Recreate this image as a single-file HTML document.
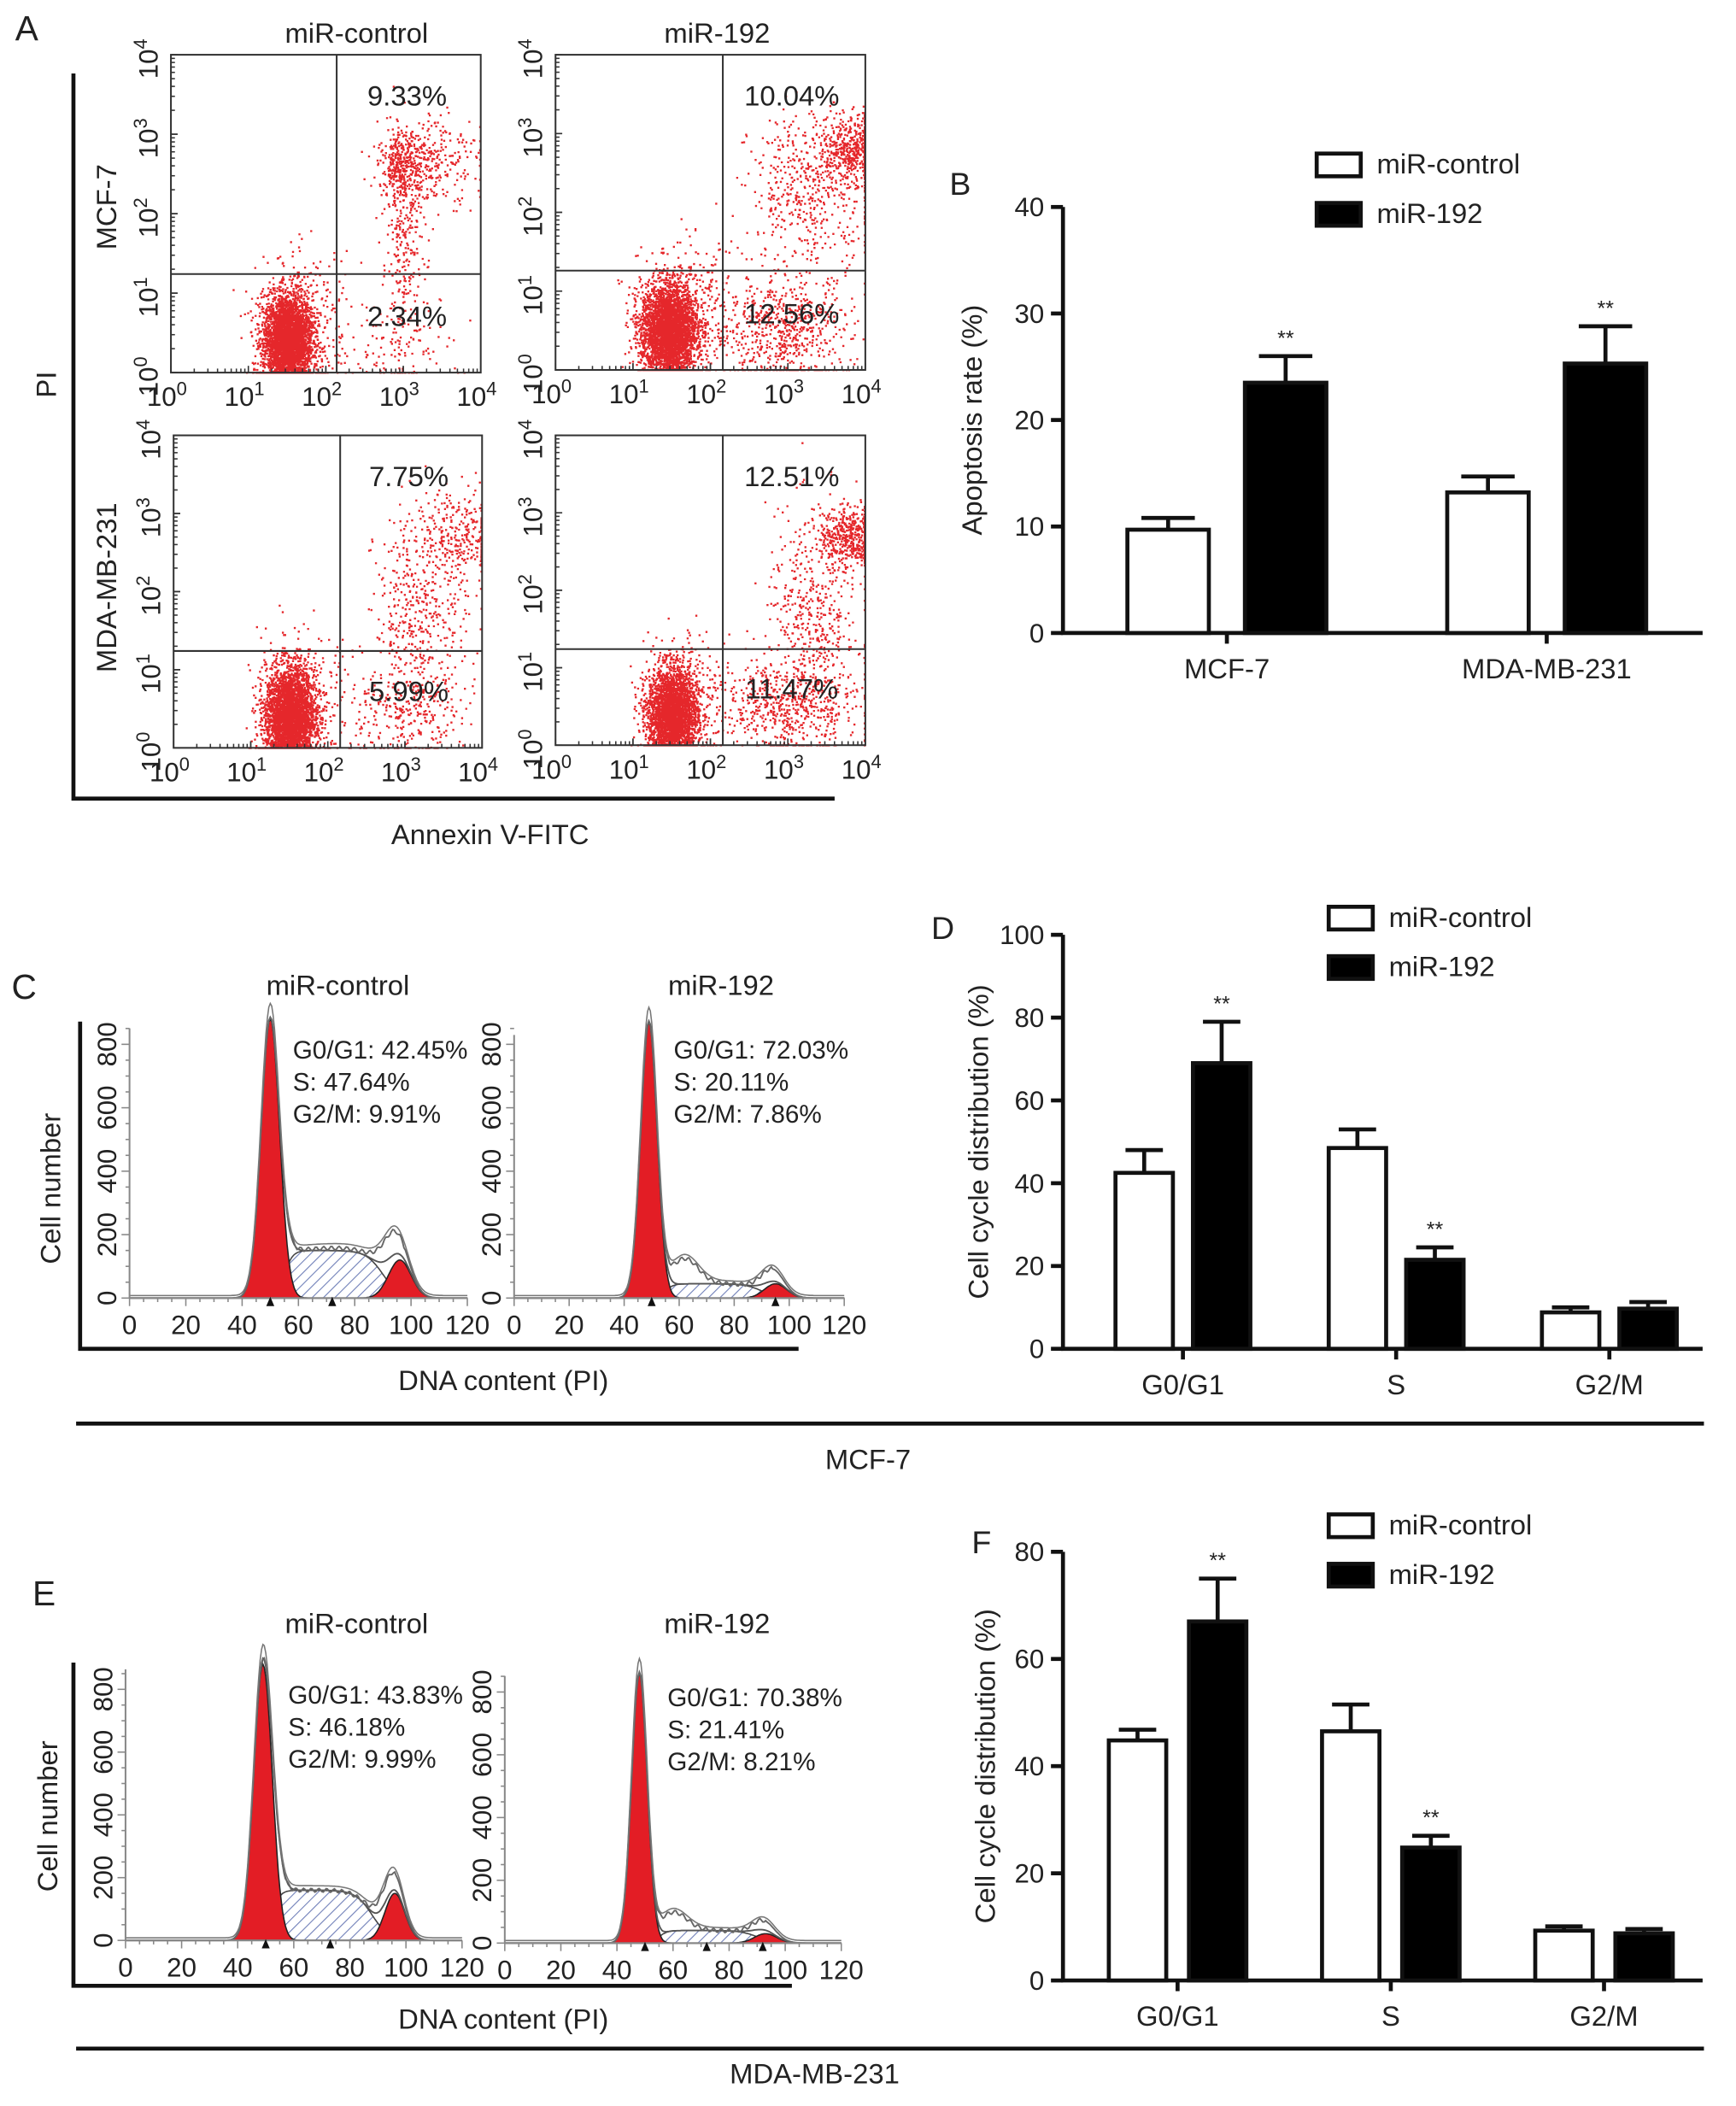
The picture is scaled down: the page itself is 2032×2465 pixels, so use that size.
<!DOCTYPE html>
<html><head><meta charset="utf-8"><style>
html,body{margin:0;padding:0;background:#fff;}
svg{display:block;font-family:"Liberation Sans",Arial,sans-serif;}
</style></head><body>
<svg id="fig" width="2032" height="2465" viewBox="0 0 1300 1577" preserveAspectRatio="none" xmlns="http://www.w3.org/2000/svg">
<defs>
<pattern id="hatch" patternUnits="userSpaceOnUse" width="6" height="6" patternTransform="rotate(45)">
<rect width="6" height="6" fill="#fff"/><line x1="0" y1="0" x2="0" y2="6" stroke="#6f7fb8" stroke-width="1.4"/>
</pattern>
</defs>
<g id="root"></g>
</svg>
<script>
// ---------- Bar chart data ----------
const B_categories = ["MCF-7", "MDA-MB-231"];
const B_control = [9.7, 13.2];
const B_control_err = [1.1, 1.5];
const B_mir = [23.5, 25.3];
const B_mir_err = [2.5, 3.5];
const B_ticks = [0, 10, 20, 30, 40];

const D_categories = ["G0/G1", "S", "G2/M"];
const D_control = [42.5, 48.5, 8.8];
const D_control_err = [5.5, 4.5, 1.2];
const D_mir = [69, 21.5, 9.7];
const D_mir_err = [10, 3, 1.6];
const D_ticks = [0, 20, 40, 60, 80, 100];

const F_categories = ["G0/G1", "S", "G2/M"];
const F_control = [44.8, 46.5, 9.3];
const F_control_err = [2, 5, 0.8];
const F_mir = [67, 24.8, 8.8];
const F_mir_err = [8, 2.2, 0.8];
const F_ticks = [0, 20, 40, 60, 80];

// ---------- Flow cytometry cluster data (log10 units: cx, cy, sx, sy, n) ----------
const flowTL = [[1.5,0.4,0.16,0.3,3500],[3.0,2.6,0.15,0.2,300],[3.3,2.7,0.35,0.3,300],[3.0,1.5,0.15,0.6,250],[2.8,0.4,0.5,0.3,120],[1.7,0.7,0.3,0.4,250]];
const flowTR = [[1.45,0.5,0.18,0.3,3500],[3.8,2.8,0.2,0.2,450],[3.3,2.3,0.4,0.5,500],[2.9,0.5,0.45,0.35,650],[1.7,0.8,0.3,0.4,300]];
const flowBL = [[1.5,0.4,0.16,0.32,3500],[3.7,2.7,0.25,0.3,250],[3.2,1.7,0.3,0.7,500],[2.9,0.4,0.4,0.3,250],[1.7,0.7,0.3,0.4,250]];
const flowBR = [[1.5,0.4,0.16,0.3,3000],[3.8,2.7,0.2,0.2,500],[3.3,1.6,0.3,0.7,500],[3.0,0.5,0.45,0.3,550],[1.7,0.7,0.3,0.4,250]];
const flowPercentUR = ["9.33%", "10.04%", "7.75%", "12.51%"];
const flowPercentLR = ["2.34%", "12.56%", "5.99%", "11.47%"];

// ---------- Histogram data ----------
const histC1 = {g1:[50,3.3,880], s:[55,90,150], g2:[96,4,120], extra:[[93,4,75],[75,10,8]], stats:["G0/G1: 42.45%","S: 47.64%","G2/M: 9.91%"], marks:[50,72]};
const histC2 = {g1:[49,3,870], s:[55,90,45], g2:[95,4,45], extra:[[62,5,80],[93,4,40]], stats:["G0/G1: 72.03%","S: 20.11%","G2/M: 7.86%"], marks:[50,95]};
const histE1 = {g1:[49,3.3,880], s:[52,88,160], g2:[96,3.5,150], extra:[[94,4,60]], stats:["G0/G1: 43.83%","S: 46.18%","G2/M: 9.99%"], marks:[50,73]};
const histE2 = {g1:[48,2.8,860], s:[55,90,40], g2:[93,4,30], extra:[[60,5,60],[92,4,30]], stats:["G0/G1: 70.38%","S: 21.41%","G2/M: 8.21%"], marks:[50,72,92]};

const NS = "http://www.w3.org/2000/svg";
const root = document.getElementById('root');
function mk(tag, attrs, parent) {
  const e = document.createElementNS(NS, tag);
  for (const k in attrs) e.setAttribute(k, attrs[k]);
  (parent || root).appendChild(e);
  return e;
}
function txt(x, y, s, size, opts, parent) {
  const a = Object.assign({x:x, y:y, 'font-size':size, 'text-anchor':'middle', fill:'#222'}, opts || {});
  const t = mk('text', a, parent);
  t.textContent = s;
  return t;
}

const labels = [["A",20,30,26],["B",719,146,24],["C",18,748,26],["D",706,703,24],["E",33,1202,26],["F",735,1163,24]];
labels.forEach(l => {
  const t = txt(l[1], l[2], l[0], l[3]);
  
  
});

// ---------- Panel A ----------
let seed = 12345;
function rnd() { seed = (seed * 1103515245 + 12345) % 2147483648; return seed / 2147483648; }
function gauss() { let u = rnd() || 1e-6, v = rnd(); return Math.sqrt(-2 * Math.log(u)) * Math.cos(2 * Math.PI * v); }

function flowPanel(px, py, pw, ph, clusters, ur, lr, qx, qy, name) {
  const g = mk('g', {});
  
  
  const X = v => px + v / 4 * pw;
  const Y = v => py + ph - v / 4 * ph;
  let d = '';
  clusters.forEach(c => {
    for (let i = 0; i < c[4]; i++) {
      let lx = c[0] + gauss() * c[2], ly = c[1] + gauss() * c[3];
      lx = Math.max(0.02, Math.min(3.98, lx)); ly = Math.max(0.01, Math.min(3.97, ly));
      d += 'M' + X(lx).toFixed(1) + ' ' + Y(ly).toFixed(1) + 'h1.5v1.5h-1.5z';
    }
  });
  const dots = mk('path', {d: d, fill: '#e5272b'}, g);
  
  
  mk('rect', {x:px, y:py, width:pw, height:ph, fill:'none', stroke:'#333', 'stroke-width':1.3}, g);
  mk('line', {x1:X(qx), y1:py, x2:X(qx), y2:py+ph, stroke:'#333', 'stroke-width':1.3}, g);
  mk('line', {x1:px, y1:Y(qy), x2:px+pw, y2:Y(qy), stroke:'#333', 'stroke-width':1.3}, g);
  for (let dec = 0; dec < 4; dec++) for (let m = 1; m <= 10; m++) {
    const v = dec + Math.log10(m);
    const L = m === 1 || m === 10 ? 5 : 3;
    mk('line', {x1:X(v), y1:py+ph, x2:X(v), y2:py+ph-L, stroke:'#333', 'stroke-width':1}, g);
    mk('line', {x1:px, y1:Y(v), x2:px+L, y2:Y(v), stroke:'#333', 'stroke-width':1}, g);
  }
  for (let k = 0; k <= 4; k++) {
    const t = txt(X(k) - 3, py + ph + 25, '10', 20, {}, g);
    const s = mk('tspan', {dy:-8, 'font-size':14}, t); s.textContent = k;
    
    
    const ty = txt(0, 0, '10', 20, {transform:'translate(' + (px - 10) + ',' + (Y(k) + 3) + ') rotate(-90)'}, g);
    const s2 = mk('tspan', {dy:-8, 'font-size':14}, ty); s2.textContent = k;
    
    
  }
  const a = txt(X(3.05), py + 38, ur, 21, {}, g);
  
  
  const b = txt(X(3.05), py + ph - 35, lr, 21, {}, g);
  
  
}
flowPanel(128, 41, 232, 238, flowTL, flowPercentUR[0], flowPercentLR[0], 2.14, 1.24, 'flow-mcf7-control');
flowPanel(416, 41, 232, 236, flowTR, flowPercentUR[1], flowPercentLR[1], 2.16, 1.26, 'flow-mcf7-mir192');
flowPanel(130, 326, 231, 234, flowBL, flowPercentUR[2], flowPercentLR[2], 2.16, 1.24, 'flow-mda-control');
flowPanel(416, 326, 232, 232, flowBR, flowPercentUR[3], flowPercentLR[3], 2.16, 1.24, 'flow-mda-mir192');
[["miR-control",267,32,'col-title-control'],["miR-192",537,32,'col-title-mir192']].forEach(c => {
  const t = txt(c[1], c[2], c[0], 21);  
});
let t0 = txt(0,0,'MCF-7',21,{transform:'translate(87,155) rotate(-90)'});  
t0 = txt(0,0,'MDA-MB-231',21,{transform:'translate(87,440) rotate(-90)'});  
t0 = txt(0,0,'PI',21,{transform:'translate(42,288) rotate(-90)'});  
t0 = txt(367,632,'Annexin V-FITC',21);  
mk('path', {d:'M55 55V598H625', fill:'none', stroke:'#111', 'stroke-width':3});

// ---------- Bar charts ----------
function barChart(o) {
  const g = mk('g', {});
  
  
  const Y = v => o.yb - v / o.vmax * (o.yb - o.yt);
  mk('line', {x1:o.x0, y1:o.yt, x2:o.x0, y2:o.yb + 1, stroke:'#111', 'stroke-width':3}, g);
  mk('line', {x1:o.x0 - 1.5, y1:o.yb, x2:o.x1, y2:o.yb, stroke:'#111', 'stroke-width':3}, g);
  o.ticks.forEach(v => {
    mk('line', {x1:o.x0 - 9, y1:Y(v), x2:o.x0, y2:Y(v), stroke:'#111', 'stroke-width':3}, g);
    const t = txt(o.x0 - 14, Y(v) + 7, String(v), 20, {'text-anchor':'end'}, g);
    
    
  });
  const step = (o.x1 - o.x0) / o.cats.length;
  o.cats.forEach((c, i) => {
    const cx = o.x0 + (i + 0.5) * step + o.shift;
    mk('line', {x1:cx, y1:o.yb, x2:cx, y2:o.yb + 8, stroke:'#111', 'stroke-width':3}, g);
    const t = txt(cx, o.yb + 34, c, 21, {}, g);
    
    
    [[o.ctrl, o.ctrlErr, '#fff', -1, 'bar-control'], [o.mir, o.mirErr, '#000', 1, 'bar-mir192']].forEach(s => {
      const bx = cx + s[3] * o.off;
      const v = s[0][i], e = s[1][i];
      mk('line', {x1:bx, y1:Y(v), x2:bx, y2:Y(v + e), stroke:'#111', 'stroke-width':3}, g);
      mk('line', {x1:bx - o.cap / 2, y1:Y(v + e), x2:bx + o.cap / 2, y2:Y(v + e), stroke:'#111', 'stroke-width':3}, g);
      const r = mk('rect', {x:bx - o.bw / 2, y:Y(v), width:o.bw, height:o.yb - Y(v), fill:s[2], stroke:'#111', 'stroke-width':3}, g);
      
      
    });
    if (o.star[i] !== null) {
      const st = txt(cx + o.off, Y(o.mir[i] + o.mirErr[i]) - 8, '**', 16, {}, g);
      
      
    }
  });
  const yt = txt(0, 0, o.title, 21, {transform:'translate(' + o.tx + ',' + ((o.yt + o.yb) / 2) + ') rotate(-90)'}, g);
  
  
  const lg = mk('g', {}, g);
  
  
  mk('rect', {x:o.lx, y:o.ly, width:33, height:17, fill:'#fff', stroke:'#111', 'stroke-width':3}, lg);
  mk('rect', {x:o.lx, y:o.ly + 37, width:33, height:17, fill:'#000', stroke:'#111', 'stroke-width':3}, lg);
  const l1 = txt(o.lx + 45, o.ly + 15, 'miR-control', 21, {'text-anchor':'start'}, lg);
   
  const l2 = txt(o.lx + 45, o.ly + 52, 'miR-192', 21, {'text-anchor':'start'}, lg);
   
}
barChart({name:'chart-b-apoptosis', x0:796, x1:1275, yt:155, yb:474, vmax:40, ticks:B_ticks, cats:B_categories, ctrl:B_control, ctrlErr:B_control_err, mir:B_mir, mirErr:B_mir_err, bw:61, off:44, cap:40, shift:3, star:['m','m'], title:'Apoptosis rate (%)', tx:735, lx:986, ly:115});
barChart({name:'chart-d-cellcycle-mcf7', x0:796, x1:1275, yt:700, yb:1010, vmax:100, ticks:D_ticks, cats:D_categories, ctrl:D_control, ctrlErr:D_control_err, mir:D_mir, mirErr:D_mir_err, bw:43, off:29, cap:28, shift:10, star:['m','m',null], title:'Cell cycle distribution (%)', tx:740, lx:995, ly:679});
barChart({name:'chart-f-cellcycle-mda', x0:796, x1:1275, yt:1162, yb:1483, vmax:80, ticks:F_ticks, cats:F_categories, ctrl:F_control, ctrlErr:F_control_err, mir:F_mir, mirErr:F_mir_err, bw:43, off:30, cap:28, shift:6, star:['m','m',null], title:'Cell cycle distribution (%)', tx:745, lx:995, ly:1134});

// ---------- Histograms ----------
function gaussF(x, p) { return p[2] * Math.exp(-0.5 * ((x - p[0]) / p[1]) ** 2); }
function sF(x, p) { return p[2] / (1 + Math.exp(-(x - p[0]) / 1.5)) / (1 + Math.exp(-(p[1] - x) / 3)); }
function histPanel(h, x0, xPer, yb, yPer, ytop, name) {
  const g = mk('g', {});
  
  
  const X = v => x0 + v * xPer, Y = v => yb - v * yPer;
  const xs = []; for (let x = 0; x <= 120; x += 0.5) xs.push(x);
  const poly = f => 'M' + X(0) + ' ' + yb + xs.map(x => 'L' + X(x).toFixed(1) + ' ' + Y(f(x)).toFixed(1)).join('') + 'L' + X(120) + ' ' + yb + 'Z';
  const line = f => xs.map((x, i) => (i ? 'L' : 'M') + X(x).toFixed(1) + ' ' + Y(f(x)).toFixed(1)).join('');
  mk('path', {d:poly(x => sF(x, h.s)), fill:'url(#hatch)', stroke:'#444', 'stroke-width':1}, g);
  mk('path', {d:poly(x => gaussF(x, h.g1)), fill:'#e31d25', stroke:'#222', 'stroke-width':1}, g);
  mk('path', {d:poly(x => gaussF(x, h.g2)), fill:'#e31d25', stroke:'#222', 'stroke-width':1}, g);
  const model = x => gaussF(x, h.g1) + sF(x, h.s) + gaussF(x, h.g2);
  const raw = x => model(x) + h.extra.reduce((a, e) => a + gaussF(x, e), 0);
  mk('path', {d:line(model), fill:'none', stroke:'#555', 'stroke-width':1.2}, g);
  mk('path', {d:line(x => raw(x) + 6 * Math.sin(x * 2.3) * (sF(x, h.s) > 10 ? 1 : 0)), fill:'none', stroke:'#666', 'stroke-width':1.2}, g);
  mk('path', {d:line(x => raw(x) * 1.04 + 8), fill:'none', stroke:'#777', 'stroke-width':1}, g);
  mk('line', {x1:x0, y1:ytop, x2:x0, y2:yb, stroke:'#888', 'stroke-width':1.3}, g);
  mk('line', {x1:x0, y1:yb, x2:X(120), y2:yb, stroke:'#888', 'stroke-width':1.3}, g);
  for (let v = 0; v <= 120; v += 5) mk('line', {x1:X(v), y1:yb, x2:X(v), y2:yb + (v % 20 ? 3 : 6), stroke:'#888', 'stroke-width':1}, g);
  for (let v = 0; v <= 850; v += 50) mk('line', {x1:x0, y1:Y(v), x2:x0 - (v % 200 ? 3 : 6), y2:Y(v), stroke:'#888', 'stroke-width':1}, g);
  for (let v = 0; v <= 120; v += 20) {
    const t = txt(X(v), yb + 27, String(v), 20, {}, g);
     
  }
  for (let v = 0; v <= 800; v += 200) {
    const t = txt(0, 0, String(v), 20, {transform:'translate(' + (x0 - 10) + ',' + Y(v) + ') rotate(-90)'}, g);
     
  }
  h.marks.forEach(m => mk('path', {d:'M' + (X(m) - 3) + ' ' + (yb + 6) + 'l3 -7l3 7z', fill:'#111'}, g));
  h.stats.forEach((s, i) => {
    const t = txt(X(58), Y(780) + i * 24 + 6, s, 19, {'text-anchor':'start'}, g);
     
  });
}
histPanel(histC1, 97, 2.108, 972, 0.2375, 770, 'histogram-mcf7-control');
histPanel(histC2, 385, 2.06, 972, 0.2375, 775, 'histogram-mcf7-mir192');
histPanel(histE1, 94, 2.1, 1453, 0.235, 1250, 'histogram-mda-control');
histPanel(histE2, 378, 2.1, 1455, 0.235, 1255, 'histogram-mda-mir192');

[["miR-control",253,745,'c-title-control'],["miR-192",540,745,'c-title-mir192'],["miR-control",267,1223,'e-title-control'],["miR-192",537,1223,'e-title-mir192'],
 ["DNA content (PI)",377,1041,'c-x-axis-title'],["DNA content (PI)",377,1519,'e-x-axis-title'],["MCF-7",650,1100,'c-cell-line-label'],["MDA-MB-231",610,1560,'e-cell-line-label']].forEach(c => {
  const t = txt(c[1], c[2], c[0], 21);  
});
t0 = txt(0,0,'Cell number',21,{transform:'translate(45,890) rotate(-90)'});  
t0 = txt(0,0,'Cell number',21,{transform:'translate(43,1360) rotate(-90)'});  
mk('path', {d:'M60 765V1010H598', fill:'none', stroke:'#111', 'stroke-width':3});
mk('path', {d:'M55 1245V1487H593', fill:'none', stroke:'#111', 'stroke-width':3});
mk('line', {x1:57, y1:1066, x2:1276, y2:1066, stroke:'#111', 'stroke-width':3});
mk('line', {x1:57, y1:1534, x2:1276, y2:1534, stroke:'#111', 'stroke-width':3});
</script>
</body></html>
